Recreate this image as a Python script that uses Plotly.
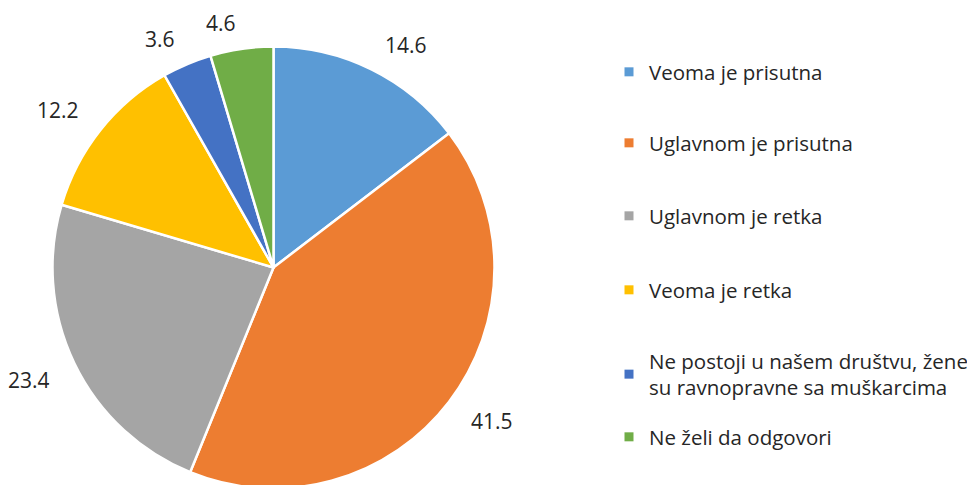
import math
import plotly.graph_objects as go

categories = [
    "Veoma je prisutna",
    "Uglavnom je prisutna",
    "Uglavnom je retka",
    "Veoma je retka",
    "Ne postoji u našem društvu, žene<br>su ravnopravne sa muškarcima",
    "Ne želi da odgovori",
]
values = [14.6, 41.5, 23.4, 12.2, 3.6, 4.6]
colors = ["#5B9BD5", "#ED7D31", "#A5A5A5", "#FFC000", "#4472C4", "#70AD47"]

W, H = 975, 485
OFF = 8  # the page body margin shifts the figure by this many pixels
FONT = "Open Sans"
TXT = "#262626"

# pie geometry (screen pixels)
CX, CY, R = 273.5 - OFF, 267.5 - OFF, 221
GAP_X, GAP_Y, HALF_H = 25, 16, 10   # outside-label offsets beyond the rim
legend_centers_px = [c - OFF for c in (72, 143, 216, 290, 374.5, 437)]
LEGEND_X = 609 - OFF

fig = go.Figure()
fig.add_trace(go.Pie(
    labels=categories, values=values, sort=False, direction="clockwise", rotation=0,
    marker=dict(colors=colors, line=dict(color="white", width=2.5)),
    textinfo="none", textposition="none",
    showlegend=False, hoverinfo="label+value",
    domain=dict(x=[(CX - R) / W, (CX + R) / W], y=[(H - CY - R) / H, (H - CY + R) / H]),
))

# value labels placed just outside each slice's mid-angle point on the rim
total = sum(values)
cum = 0.0
for v in values:
    mid = (cum + v / 2) / total * 2 * math.pi
    cum += v
    s, c = math.sin(mid), math.cos(mid)
    px = CX + (R + GAP_X) * s
    py = CY - (R + GAP_Y) * c - HALF_H * (1 if c > 0 else -1)
    fig.add_annotation(
        x=px / W, y=(H - py) / H, xref="paper", yref="paper",
        text=f"{v}", showarrow=False,
        xanchor="left" if s >= 0 else "right", yanchor="middle", height=20,
        font=dict(family=FONT, size=21, color=TXT),
    )

layout_legends = {}
for i, (cat, col, cy) in enumerate(zip(categories, colors, legend_centers_px)):
    name = "legend" if i == 0 else f"legend{i+1}"
    fig.add_trace(go.Scatter(
        x=[None], y=[None], mode="markers", name=cat,
        marker=dict(symbol="square", size=9, color=col),
        legend=name, showlegend=True,
    ))
    layout_legends[name] = dict(
        x=LEGEND_X / W, xanchor="left", y=(H - cy) / H, yanchor="middle",
        font=dict(family=FONT, size=20.5, color=TXT),
        bgcolor="rgba(0,0,0,0)", borderwidth=0, itemwidth=30,
    )

fig.update_layout(
    width=W, height=H,
    margin=dict(l=0, r=0, t=0, b=0),
    paper_bgcolor="white", plot_bgcolor="white",
    xaxis=dict(visible=False), yaxis=dict(visible=False),
    font=dict(family=FONT, color=TXT),
    **layout_legends,
)

fig.write_html("out.html")
